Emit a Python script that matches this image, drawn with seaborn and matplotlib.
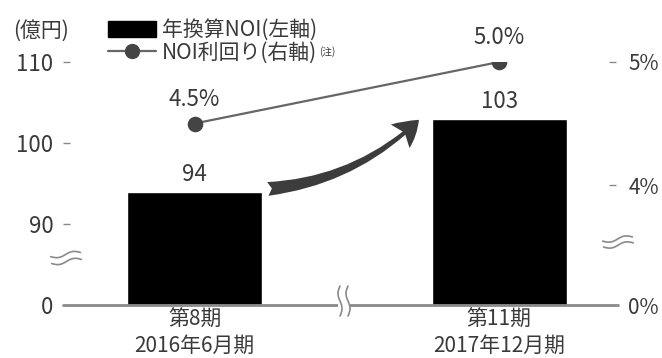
import numpy as np
import matplotlib
matplotlib.use("Agg")
import matplotlib.pyplot as plt
import seaborn as sns
from matplotlib.patches import Patch, FancyArrowPatch, Rectangle
from matplotlib.lines import Line2D
from matplotlib.transforms import IdentityTransform

# ---- data ----
periods = ["第8期\n2016年6月期", "第11期\n2017年12月期"]
noi = [94, 103]                 # 年換算NOI (億円)
noi_yield = [4.5, 5.0]          # NOI利回り (%)
left_ticks = [0, 90, 100, 110]
right_ticks = [0, 4, 5]
bar_label = "年換算NOI(左軸)"
line_label = "NOI利回り(右軸)"
note = "(注)"
unit = "(億円)"

sns.set_theme(style="white")
plt.rcParams["font.family"] = ["Noto Sans CJK JP", "DejaVu Sans"]
TXT = "#3a3a3a"
GRAY = "#8a8a8a"

W, H = 662, 358
fig = plt.figure(figsize=(W / 100, H / 100), dpi=100)
ax = fig.add_axes([70 / W, 53 / H, 539 / W, 243 / H])

bar_w = 0.443
sns.barplot(x=periods, y=noi, color="black", saturation=1, width=bar_w, ax=ax)

# broken left axis: 0-90 compressed, 90-110 linear
def f_left(v):
    v = np.asarray(v, float)
    return np.where(v < 90, v / 9.0, v - 80.0)

def i_left(p):
    p = np.asarray(p, float)
    return np.where(p < 10, p * 9.0, p + 80.0)

ax.set_yscale("function", functions=(f_left, i_left))
ax.set_ylim(0, 110)

ax2 = ax.twinx()
sns.pointplot(x=periods, y=noi_yield, color="#444444", markers="o",
              errorbar=None, markersize=10, linewidth=1.6, ax=ax2)
for ln in ax2.lines:
    ln.set_color("#666666")
    ln.set_markerfacecolor("#444444")
    ln.set_markeredgecolor("#444444")

A = 120 / 123 / 4

def f_right(v):
    v = np.asarray(v, float)
    return np.where(v < 4, v * A, 4 * A + (v - 4))

def i_right(p):
    p = np.asarray(p, float)
    return np.where(p < 4 * A, p / A, p - 4 * A + 4)

ax2.set_yscale("function", functions=(f_right, i_right))
ax2.set_ylim(0, 5)

# ticks
ax.set_yticks(left_ticks, labels=[str(t) for t in left_ticks])
ax.tick_params(axis="y", left=True, length=5, width=1, color=GRAY, pad=7,
               labelsize=16, labelcolor=TXT)
ax.yaxis.get_major_ticks()[0].tick1line.set_visible(False)
ax2.set_yticks(right_ticks, labels=[f"{t}%" for t in right_ticks])
ax2.tick_params(axis="y", right=True, length=5, width=1, color=GRAY, pad=9,
                labelsize=15, labelcolor=TXT)
ax2.yaxis.get_major_ticks()[0].tick2line.set_visible(False)
ax.set_xticks(range(len(periods)), labels=periods)
ax.tick_params(axis="x", bottom=False, length=0, pad=3, labelsize=15, labelcolor=TXT)
for lbl in ax.get_xticklabels():
    lbl.set_linespacing(1.2)
ax.set_xlabel("")
ax.set_ylabel("")
ax2.set_ylabel("")
for a in (ax, ax2):
    for s in a.spines.values():
        s.set_visible(False)
ax.set_xlim(-0.409, 1.361)

# baseline
ax.axhline(0, xmin=-7 / 539, xmax=1 + 9 / 539, color=GRAY, lw=2, clip_on=False, zorder=3)

# value labels
ax.bar_label(ax.containers[0], labels=[str(v) for v in noi], padding=4,
             fontsize=16, color=TXT)
for i, v in enumerate(noi_yield):
    ax2.annotate(f"{v}%", (i, v), xytext=(0, 9), textcoords="offset points",
                 ha="center", va="bottom", fontsize=16, color=TXT)

# growth arrow
arrow = FancyArrowPatch((bar_w / 2 + 0.01, noi[0] + 0.3), (1 - bar_w / 2 - 0.035, noi[1] + 0.1),
                        connectionstyle="arc3,rad=0.18",
                        arrowstyle="fancy,head_length=1.0,head_width=1.2,tail_width=0.55",
                        mutation_scale=18, color="#3c3c3c", lw=0,
                        transform=ax.transData, clip_on=False, zorder=5)
ax.add_patch(arrow)

# break marks (decoration, pixel coordinates)
def wavy(cx, cy, length, angle, gap, amp=2.0):
    t = np.linspace(-0.5, 0.5, 40)
    c, s = np.cos(np.radians(angle)), np.sin(np.radians(angle))
    for k in (-0.5, 0.5):
        xs = t * length
        ys = amp * np.sin(2 * np.pi * t) + k * gap
        X = cx + xs * c - ys * s
        Y = (H - cy) + xs * s + ys * c
        fig.add_artist(Line2D(X, Y, transform=IdentityTransform(), color=GRAY, lw=1.2))

wavy(66, 258, 30, 8, 7)
wavy(618, 242, 30, 8, 6)
fig.add_artist(Rectangle((338, H - 309), 12, 12, transform=IdentityTransform(),
                         facecolor="white", edgecolor="none"))
wavy(344, 301, 30, 90, 8)

# legend
handles = [Patch(facecolor="black", edgecolor="black"),
           Line2D([], [], color="#666666", lw=1.6, marker="o", markersize=10,
                  markerfacecolor="#444444", markeredgecolor="#444444")]
leg = fig.legend(handles, [bar_label, line_label], loc="upper left",
                 bbox_to_anchor=(108 / W, 1 - 19 / H), frameon=False, fontsize=15,
                 handlelength=2.3, handleheight=0.8, handletextpad=0.3,
                 labelspacing=0.05, borderpad=0, borderaxespad=0, labelcolor=TXT)

fig.text(13 / W, 1 - 31 / H, unit, fontsize=15, ha="left", va="center", color=TXT)

# superscript note next to the second legend entry
fig.canvas.draw()
bb = leg.get_texts()[1].get_window_extent()
fig.text((bb.x1 + 2) / W, (bb.y1 - 4) / H, note, fontsize=7, ha="left", va="top", color=TXT)

fig.savefig("out.png", dpi=100)
